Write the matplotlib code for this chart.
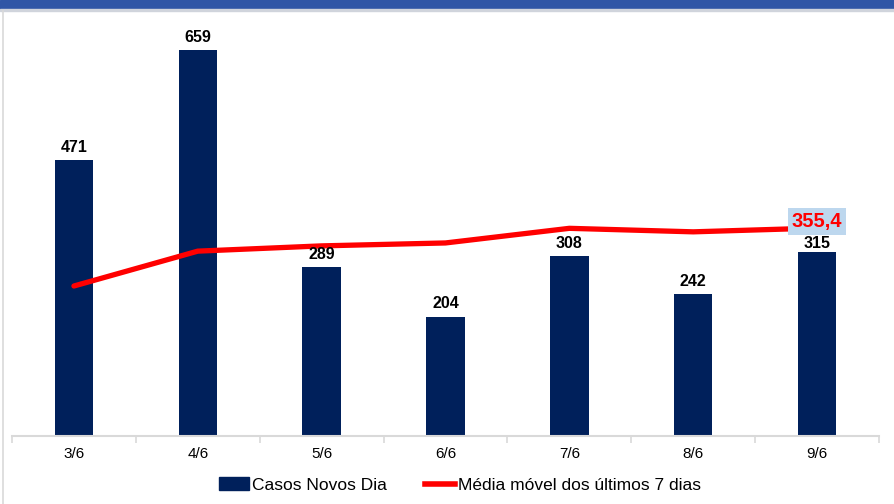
import matplotlib
matplotlib.use("Agg")
import matplotlib.pyplot as plt
from matplotlib.lines import Line2D
from matplotlib.patches import Patch, Rectangle
import numpy as np

plt.rcParams['font.family'] = ['Liberation Sans', 'DejaVu Sans']

categories = ["3/6", "4/6", "5/6", "6/6", "7/6", "8/6", "9/6"]
casos = [471, 659, 289, 204, 308, 242, 315]
media = [256.4, 316.0, 325.0, 330.0, 355.0, 349.0, 355.4]
media_label = "355,4"

W, H = 894, 504
fig = plt.figure(figsize=(W / 100, H / 100), dpi=100)

# top blue band and frame
fig.patches.append(Rectangle((0, 1 - 9 / H), 1, 9 / H, transform=fig.transFigure,
                             color="#3056A6", zorder=0))
fig.patches.append(Rectangle((0, 1 - 11 / H), 1, 2 / H, transform=fig.transFigure,
                             color="#D0D4DC", zorder=0))
fig.lines.append(Line2D([3 / W, 3 / W], [0, 1 - 11 / H], transform=fig.transFigure,
                        color="#D9D9D9", lw=1.2))

x0, x1 = 12 / W, 879 / W
yb = 1 - 436 / H
ymax = 700
ytop = 1 - (436 - ymax * 0.585) / H
ax = fig.add_axes([x0, yb, x1 - x0, ytop - yb])

x = np.arange(len(categories))
navy = "#00205B"
ax.bar(x, casos, width=0.31, color=navy, zorder=2, label="Casos Novos Dia")
ax.plot(x, media, color="#FF0000", lw=3.8, solid_capstyle="round", zorder=3,
        label="Média móvel dos últimos 7 dias")

for i, (xi, v) in enumerate(zip(x, casos)):
    off = 9 if i < len(casos) - 1 else 1
    ax.text(xi, v + off, str(v), ha="center", va="bottom", fontsize=11.5,
            fontweight="bold", color="black", zorder=4)

ax.text(x[-1], media[-1] + 12, media_label, ha="center", va="center", fontsize=14.5,
        fontweight="bold", color="#FF0000", zorder=5,
        bbox=dict(boxstyle="square,pad=0.2", fc="#BDD7EE", ec="none"))

ax.set_xlim(-0.5, len(categories) - 0.5)
ax.set_ylim(0, ymax)
ax.set_yticks([])
for s in ["top", "right", "left"]:
    ax.spines[s].set_visible(False)
ax.spines["bottom"].set_color("#D9D9D9")
ax.spines["bottom"].set_linewidth(1.5)
ax.set_xticks(x)
ax.set_xticklabels(categories, fontsize=11)
ax.tick_params(axis="x", which="major", length=0, pad=8)
ax.set_xticks(np.arange(-0.5, len(categories)), minor=True)
ax.tick_params(axis="x", which="minor", length=5, color="#D9D9D9", width=1.2)

handles = [Patch(color=navy, label="Casos Novos Dia"),
           Line2D([0], [0], color="#FF0000", lw=4, label="Média móvel dos últimos 7 dias")]
fig.legend(handles=handles, loc="center", bbox_to_anchor=(460 / W, 1 - 485 / H), ncol=2,
           frameon=False, fontsize=12.5, handlelength=1.75, handletextpad=0.15,
           columnspacing=2.2)

fig.savefig("out.png", dpi=100)
